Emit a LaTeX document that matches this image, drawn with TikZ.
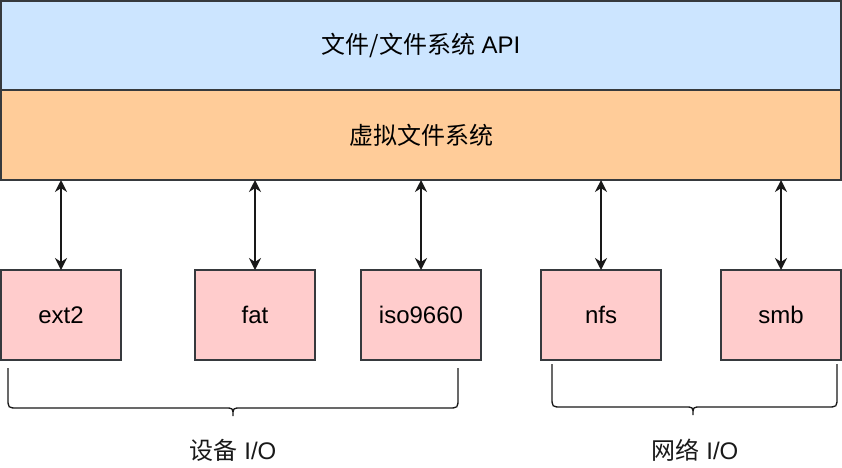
\documentclass[tikz,border=0pt]{standalone}
\usepackage{fontspec}
\setmainfont{Liberation Sans}
\newfontfamily\cjk{Noto Sans CJK SC}
\usetikzlibrary{arrows.meta, positioning}
\definecolor{azulcapa}{HTML}{CCE5FF}
\definecolor{naranjacapa}{HTML}{FFCC99}
\definecolor{rosamodulo}{HTML}{FFCCCC}
\definecolor{borde}{HTML}{36393D}
\tikzstyle{capa} = [draw=borde, line width=1.3pt, rectangle, minimum width=840pt, minimum height=90pt, inner sep=0pt, outer sep=0pt, font=\fontsize{24}{28}\selectfont]
\tikzstyle{modulo} = [draw=borde, fill=rosamodulo, line width=1.3pt, rectangle, minimum width=120pt, minimum height=90pt, inner sep=0pt, outer sep=0pt, font=\fontsize{24}{28}\selectfont]
\tikzstyle{flecha} = [{Stealth[length=12pt,width=12pt]}-{Stealth[length=12pt,width=12pt]}, line width=1.6pt, draw=black!90]
\tikzstyle{llave} = [draw=black!90, line width=1.3pt]
\tikzstyle{rotulo} = [font=\fontsize{24}{28}\selectfont, text=black!90]

\begin{document}
\begin{tikzpicture}[x=1pt, y=-1pt]
	\useasboundingbox (0,0) rectangle (842,467);
	% capas superiores
	\node[capa, fill=azulcapa, minimum height=89pt, anchor=north west] (api) at (1,1) {{\cjk 文件/文件系统} API};
	\node[capa, fill=naranjacapa, below=0pt of api] (vfs) {\cjk 虚拟文件系统};
	% sistemas de archivos
	\node[modulo, anchor=north west] (ext2) at (1,270) {ext2};
	\node[modulo, right=74pt of ext2] (fat) {fat};
	\node[modulo, right=46pt of fat] (iso) {iso9660};
	\node[modulo, right=60pt of iso] (nfs) {nfs};
	\node[modulo, right=60pt of nfs] (smb) {smb};
	% flechas
	\draw[flecha] (vfs.south -| ext2.north) -- (ext2.north);
	\draw[flecha] (vfs.south -| fat.north) -- (fat.north);
	\draw[flecha] (vfs.south -| iso.north) -- (iso.north);
	\draw[flecha] (vfs.south -| nfs.north) -- (nfs.north);
	\draw[flecha] (vfs.south -| smb.north) -- (smb.north);
	% llaves
	\draw[llave] (8,368) -- (8,398) .. controls (8,408) .. (18,408) -- (225,408) .. controls (233,408) .. (233,416) .. controls (233,408) .. (241,408) -- (448,408) .. controls (458,408) .. (458,398) -- (458,368);
	\draw[llave] (552,364) -- (552,397) .. controls (552,407) .. (562,407) -- (685,407) .. controls (693,407) .. (693,415) .. controls (693,407) .. (701,407) -- (827,407) .. controls (837,407) .. (837,397) -- (837,364);
	\node[rotulo] (dispositivos) at (233,450) {{\cjk 设备} I/O};
	\node[rotulo] (red) at (695,450) {{\cjk 网络} I/O};
\end{tikzpicture}
\end{document}
